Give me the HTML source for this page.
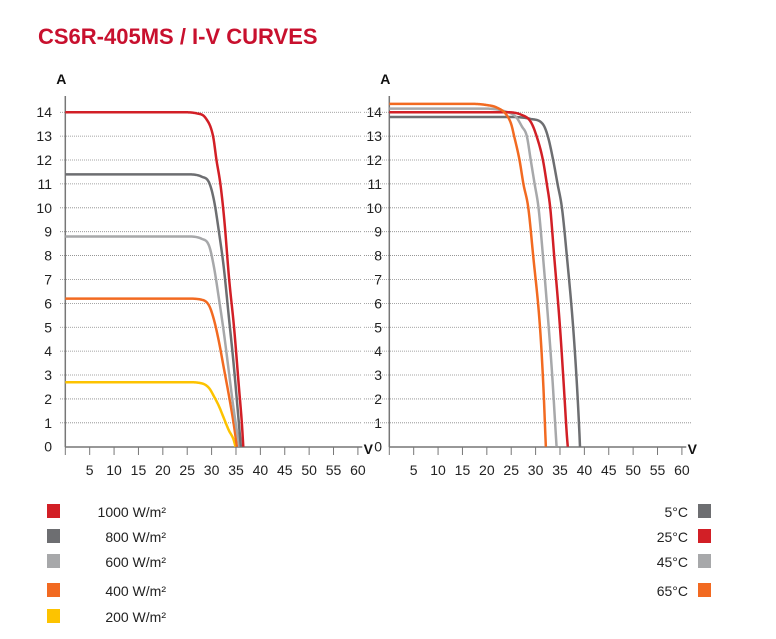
<!DOCTYPE html>
<html><head><meta charset="utf-8"><style>
body{margin:0;background:#fff;}
svg text{font-family:"Liberation Sans",sans-serif;}
</style></head><body>
<svg width="776" height="634" viewBox="0 0 776 634" xmlns="http://www.w3.org/2000/svg" id="chart">
<text x="38" y="44" font-size="22" font-weight="bold" fill="#c8102e">CS6R-405MS / I-V CURVES</text>
<g id="left"></g>
<g id="right"></g>
<g id="legend"></g>
</svg>
<script>
const xTicks=[5,10,15,20,25,30,35,40,45,50,55,60];
const yTicks=[0,1,2,3,4,5,6,7,8,9,10,11,12,13,14];
const irrLabels=["1000 W/m²","800 W/m²","600 W/m²","400 W/m²","200 W/m²"];
const irrColors=["#d21f26","#6d6e71","#a7a8aa","#f26a21","#fdc300"];
const irr1000=[[0,14],[24,14],[27,13.95],[28.8,13.75],[30.3,13],[31,12],[31.8,11],[32.6,9.5],[33.6,7],[34.6,5],[35.6,2.5],[36.2,1],[36.5,0]];
const irr800=[[0,11.4],[25,11.4],[28,11.3],[29.5,11.05],[30.5,10.3],[31.5,9],[32.5,7.5],[33.5,5.5],[34.5,3.5],[35.5,1.2],[36,0]];
const irr600=[[0,8.8],[25,8.8],[28,8.7],[29.5,8.4],[30.5,7.5],[31.5,6.2],[32.5,4.8],[33.5,3.2],[34.5,1.6],[35.7,0]];
const irr400=[[0,6.2],[25,6.2],[28,6.15],[29.5,5.9],[30.5,5.3],[31.5,4.4],[32.5,3.3],[33.5,2.2],[34.5,1],[35.2,0]];
const irr200=[[0,2.7],[25,2.7],[28,2.65],[29.5,2.45],[30.5,2.1],[31.5,1.7],[32.5,1.2],[33.5,0.7],[34.5,0.3],[34.9,0]];
const tempLabels=["5°C","25°C","45°C","65°C"];
const tempColors=["#6d6e71","#d21f26","#a7a8aa","#f26a21"];
const temp5=[[0,13.8],[25,13.8],[29,13.72],[31.5,13.5],[32.5,13],[33.6,12],[34.5,11],[35.4,10],[36.4,8],[37.7,5],[38.5,2.5],[39,0.5],[39.1,0]];
const temp25=[[0,14],[24,14],[27,13.9],[29,13.6],[30.2,13],[31.5,12],[32.3,11],[33,10],[33.8,8],[35,5],[35.8,2.5],[36.4,0.5],[36.6,0]];
const temp45=[[0,14.15],[20,14.15],[24,14.02],[26,13.8],[27.2,13.4],[28.2,13],[29,12],[29.8,11],[30.6,10],[31.5,8],[32.5,5.5],[33.4,3],[34,1],[34.3,0]];
const temp65=[[0,14.35],[17,14.35],[20,14.3],[22,14.2],[24,13.9],[25,13.5],[25.6,13],[26.7,12],[27.5,11],[28.5,10],[29.5,8],[30.9,5],[31.6,2.5],[32,0.5],[32.1,0]];
const NS="http://www.w3.org/2000/svg";
function mk(tag,attrs,parent,text){const e=document.createElementNS(NS,tag);for(const k in attrs)e.setAttribute(k,attrs[k]);if(text!==undefined)e.textContent=text;parent.appendChild(e);return e;}
function monotone(pts){
  const n=pts.length,xs=pts.map(p=>p[0]),ys=pts.map(p=>p[1]);
  const d=[],m=[];
  for(let i=0;i<n-1;i++)d.push((ys[i+1]-ys[i])/(xs[i+1]-xs[i]));
  m[0]=d[0];m[n-1]=d[n-2];
  for(let i=1;i<n-1;i++){m[i]=(d[i-1]*d[i]<=0)?0:(d[i-1]+d[i])/2;}
  for(let i=0;i<n-1;i++){
    if(d[i]===0){m[i]=0;m[i+1]=0;continue;}
    const a=m[i]/d[i],b=m[i+1]/d[i],s=a*a+b*b;
    if(s>9){const t=3/Math.sqrt(s);m[i]=t*a*d[i];m[i+1]=t*b*d[i];}
  }
  const out=[];
  for(let i=0;i<n-1;i++){
    const h=xs[i+1]-xs[i],steps=Math.max(2,Math.ceil(h*8));
    for(let k=0;k<steps;k++){
      const t=k/steps,t2=t*t,t3=t2*t;
      const y=(2*t3-3*t2+1)*ys[i]+(t3-2*t2+t)*h*m[i]+(-2*t3+3*t2)*ys[i+1]+(t3-t2)*h*m[i+1];
      out.push([xs[i]+t*h,y]);
    }
  }
  out.push(pts[n-1]);
  return out;
}
function makeChart(g,x0,gridStart,gridEnd,labelRight,series,colors,names){
  const xs=v=>x0+v*(292.6/60);
  const ys=v=>446.7-v*23.89;
  yTicks.forEach(t=>{
    if(t>0){const l=mk('line',{x1:gridStart,x2:gridEnd,y1:ys(t),y2:ys(t),stroke:'#888','stroke-width':0.8,'stroke-dasharray':'1,1'},g);
    
    }
    const tx=mk('text',{x:labelRight,y:ys(t)+5,'font-size':14,'text-anchor':'end',fill:'#222'},g,String(t));
    
    
  });
  const ya=mk('line',{x1:x0,x2:x0,y1:96,y2:447,stroke:'#777','stroke-width':1.5},g);
  
  
  const xa=mk('line',{x1:x0,x2:x0+297,y1:447,y2:447,stroke:'#777','stroke-width':1.5},g);
  
  
  mk('line',{x1:x0,x2:x0,y1:447,y2:455,stroke:'#777','stroke-width':1},g);
  xTicks.forEach(t=>{
    const tk=mk('line',{x1:xs(t),x2:xs(t),y1:447,y2:455,stroke:'#777','stroke-width':1},g);
    
    
    const tx=mk('text',{x:xs(t),y:475,'font-size':14,'text-anchor':'middle',fill:'#222'},g,String(t));
    
    
  });
  const at=mk('text',{x:x0-4,y:84,'font-size':14,'font-weight':'bold','text-anchor':'middle',fill:'#111'},g,'A');
  
  
  const vt=mk('text',{x:x0+303,y:454,'font-size':14,'font-weight':'bold','text-anchor':'middle',fill:'#111'},g,'V');
  
  
  series.forEach((pts,i)=>{
    const P=monotone(pts).map(p=>[xs(p[0]),ys(p[1])]);
    const d='M'+P.map(p=>p[0].toFixed(2)+','+p[1].toFixed(2)).join(' L');
    const path=mk('path',{d:d,fill:'none',stroke:colors[i],'stroke-width':2.5,'stroke-linejoin':'round'},g);
    
    
  });
}
makeChart(document.getElementById('left'),65.3,60,362,52,[irr200,irr400,irr600,irr800,irr1000],[irrColors[4],irrColors[3],irrColors[2],irrColors[1],irrColors[0]],['200','400','600','800','1000']);
makeChart(document.getElementById('right'),389.3,364,692,382,[temp5,temp45,temp25,temp65],[tempColors[0],tempColors[2],tempColors[1],tempColors[3]],['5c','45c','25c','65c']);
const lg=document.getElementById('legend');
const lrows=[511,536,561,590,616];
irrLabels.forEach((t,i)=>{
  const r=mk('rect',{x:47,y:lrows[i]-7,width:13,height:14,fill:irrColors[i]},lg);
  
  
  const tx=mk('text',{x:166,y:lrows[i]+6,'font-size':14,'text-anchor':'end',fill:'#222'},lg,t);
  
  
});
tempLabels.forEach((t,i)=>{
  const r=mk('rect',{x:698,y:lrows[i]-7,width:13,height:14,fill:tempColors[i]},lg);
  
  
  const tx=mk('text',{x:688,y:lrows[i]+6,'font-size':14,'text-anchor':'end',fill:'#222'},lg,t);
  
  
});
</script>
</body></html>
